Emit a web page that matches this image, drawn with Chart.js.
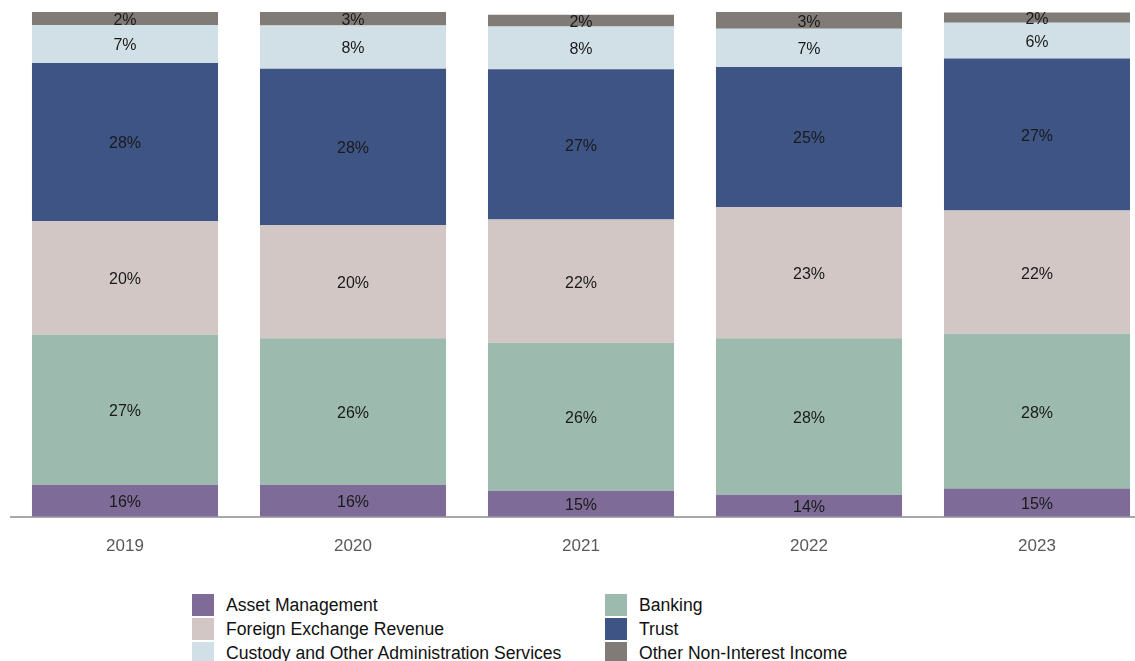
<!DOCTYPE html>
<html>
<head>
<meta charset="utf-8">
<script src="https://cdn.jsdelivr.net/npm/chart.js@4/dist/chart.umd.min.js"></script>
<style>
  html, body { margin: 0; padding: 0; background: #fff; overflow: hidden; }
  #wrap { position: relative; width: 1135px; height: 661px; overflow: hidden; }
  #box { position: absolute; left: 0; top: 0; width: 1160px; height: 569px; }
  .lg { position: absolute; height: 22px; line-height: 22px; white-space: nowrap;
        font-family: 'Liberation Sans', Arial, sans-serif;
        font-size: 17.6px; color: #111; }
  .lg span { position: absolute; left: 0; top: 0; width: 22px; height: 22px; }
  .lg b { font-weight: normal; position: absolute; left: 34px; top: 0; }
</style>
</head>
<body>
<div id="wrap">
  <div id="box"><canvas id="grafico"></canvas></div>
  <div id="legenda"></div>
</div>
<script>
var years = ["2019", "2020", "2021", "2022", "2023"];

var seriesNames = [
    "Asset Management",
    "Banking",
    "Foreign Exchange Revenue",
    "Trust",
    "Custody and Other Administration Services",
    "Other Non-Interest Income"
];

// share of total, %
var assetManagement = [15.7, 15.7, 14.6, 13.9, 15.0];
var banking         = [26.8, 26.1, 26.4, 27.9, 27.6];
var foreignExchange = [20.2, 20.2, 22.0, 23.4, 22.0];
var trust           = [28.2, 27.9, 26.8, 25.0, 27.1];
var custody         = [6.8, 7.7, 7.6, 6.8, 6.4];
var otherIncome     = [2.3, 2.6, 2.1, 3.0, 1.8];

var colors = ["#7e6b97", "#9dbaae", "#d3c7c5", "#3d5485", "#d1e0e7", "#807b77"];
var fontFamily = "'Liberation Sans', Arial, sans-serif";

var seriesData = [assetManagement, banking, foreignExchange, trust, custody, otherIncome];

var segmentLabels = {
    id: "segmentLabels",
    afterDatasetsDraw: function (chart) {
        var ctx = chart.ctx;
        var area = chart.chartArea;
        ctx.save();
        ctx.font = "16px " + fontFamily;
        ctx.fillStyle = "#1a1a1a";
        ctx.textAlign = "center";
        ctx.textBaseline = "middle";
        chart.data.datasets.forEach(function (ds, i) {
            chart.getDatasetMeta(i).data.forEach(function (bar, j) {
                var top = Math.max(bar.y, area.top);
                var bottom = Math.min(bar.base, area.bottom);
                ctx.fillText(Math.round(ds.data[j]) + "%", bar.x, (top + bottom) / 2 + 2);
            });
        });
        ctx.restore();
    }
};

document.addEventListener("DOMContentLoaded", function () {
    var ctx = document.getElementById("grafico");
    if (!ctx) {
        console.error("canvas not found");
        return;
    }

    new Chart(ctx.getContext("2d"), {
        type: "bar",
        data: {
            labels: years,
            datasets: seriesNames.map(function (name, i) {
                return {
                    label: name,
                    data: seriesData[i],
                    backgroundColor: colors[i],
                    borderWidth: 0,
                    categoryPercentage: 1,
                    barPercentage: 0.816
                };
            })
        },
        options: {
            responsive: true,
            maintainAspectRatio: false,
            animation: false,
            layout: {
                padding: { left: 11, right: 9, top: 12, bottom: 0 }
            },
            plugins: {
                legend: { display: false },
                tooltip: { enabled: false }
            },
            scales: {
                x: {
                    stacked: true,
                    grid: { display: false },
                    border: { display: true, color: "#a8a8a8", width: 2 },
                    ticks: {
                        color: "#595959",
                        padding: 12,
                        font: { family: fontFamily, size: 17 }
                    }
                },
                y: {
                    stacked: true,
                    display: false,
                    min: 10,
                    max: 100
                }
            }
        },
        plugins: [segmentLabels]
    });

    // legend: two columns, three rows
    var legenda = document.getElementById("legenda");
    var colLeft = [192, 605];
    var rowTop = [594, 618, 642];
    seriesNames.forEach(function (name, i) {
        var item = document.createElement("div");
        item.className = "lg";
        item.style.left = colLeft[i % 2] + "px";
        item.style.top = rowTop[Math.floor(i / 2)] + "px";
        var sw = document.createElement("span");
        sw.style.background = colors[i];
        var tx = document.createElement("b");
        tx.textContent = name;
        item.appendChild(sw);
        item.appendChild(tx);
        legenda.appendChild(item);
    });
});
</script>
</body>
</html>
